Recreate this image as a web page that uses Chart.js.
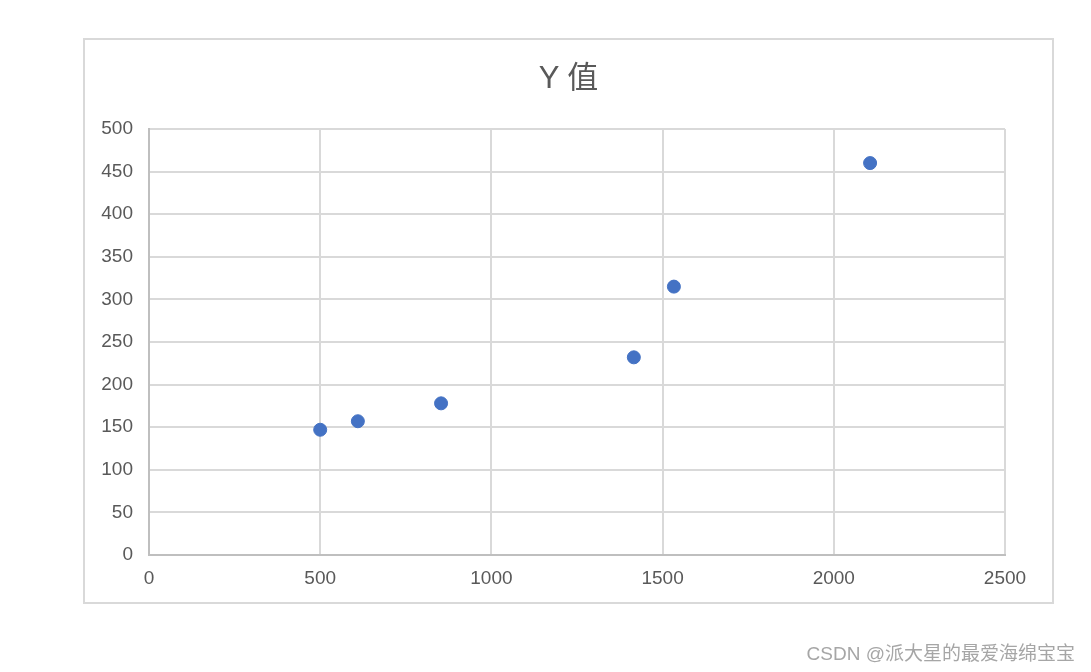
<!DOCTYPE html>
<html>
<head>
<meta charset="utf-8">
<script src="https://cdn.jsdelivr.net/npm/chart.js@4"></script>
<style>
  html, body { margin: 0; padding: 0; background: #fff; }
  #wrap { position: relative; width: 1091px; height: 672px; }
  #myChart { position: absolute; left: 0; top: 0; }
  .title {
    position: absolute; left: 84px; width: 969px; top: 58px;
    text-align: center; line-height: 40px;
    font-family: "Liberation Sans", "Noto Sans CJK SC", sans-serif;
    font-size: 31px; color: #595959;
  }
  .mark {
    position: absolute; right: 16px; top: 640px;
    font-family: "Liberation Sans", "Noto Sans CJK SC", sans-serif;
    font-size: 19px; color: #a6a6a6; line-height: 28px;
  }
</style>
</head>
<body>
<div id="wrap">
  <canvas id="myChart" width="1091" height="672"></canvas>
  <div class="title" id="title"></div>
  <div class="mark">CSDN @派大星的最爱海绵宝宝</div>
</div>
<script>
const xValues = [500, 610, 853, 1416, 1533, 2106];
const yValues = [147, 157, 178, 232, 315, 460];
const chartTitle = "Y 值";

const points = xValues.map((x, i) => ({ x: x, y: yValues[i] }));
document.getElementById("title").textContent = chartTitle;

// outer frame of the chart, like the Excel chart border
const frame = {
  id: "frame",
  beforeDraw(chart) {
    const c = chart.ctx;
    c.save();
    c.fillStyle = "#fff";
    c.fillRect(0, 0, chart.width, chart.height);
    c.strokeStyle = "#d9d9d9";
    c.lineWidth = 2;
    c.strokeRect(84, 39, 969, 564);
    c.restore();
  },
};

const ctx = document.getElementById("myChart").getContext("2d");
new Chart(ctx, {
  type: "scatter",
  data: {
    datasets: [
      {
        label: chartTitle,
        data: points,
        backgroundColor: "#4472C4",
        borderColor: "#4472C4",
        pointRadius: 6.5,
        pointHoverRadius: 6.5,
      },
    ],
  },
  options: {
    responsive: false,
    animation: false,
    layout: {
      padding: { top: 129, left: 89, right: 86, bottom: 77 },
    },
    plugins: {
      legend: { display: false },
      tooltip: { enabled: false },
      title: { display: false },
    },
    scales: {
      x: {
        type: "linear",
        min: 0,
        max: 2500,
        ticks: {
          stepSize: 500,
          color: "#595959",
          padding: 12,
          font: { family: "Liberation Sans", size: 19 },
          callback: (v) => String(v),
        },
        grid: { color: "#d9d9d9", lineWidth: 2, drawTicks: false },
        border: { color: "#bfbfbf", width: 2 },
        afterFit: (scale) => { scale.height = 40; },
      },
      y: {
        min: 0,
        max: 500,
        ticks: {
          stepSize: 50,
          color: "#595959",
          padding: 16,
          font: { family: "Liberation Sans", size: 19 },
          callback: (v) => String(v),
        },
        grid: { color: "#d9d9d9", lineWidth: 2, drawTicks: false },
        border: { color: "#bfbfbf", width: 2 },
        afterFit: (scale) => { scale.width = 60; },
      },
    },
  },
  plugins: [frame],
});
</script>
</body>
</html>
